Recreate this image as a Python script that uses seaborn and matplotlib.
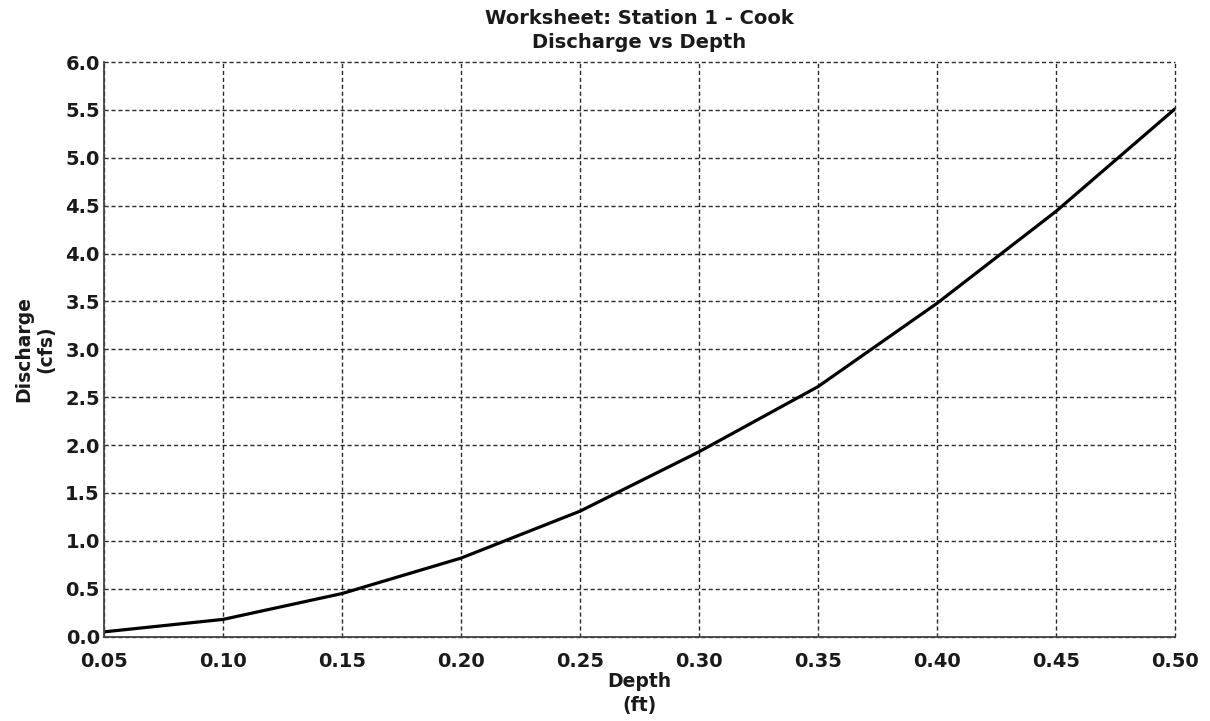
import matplotlib
matplotlib.use("Agg")
import matplotlib.pyplot as plt
import seaborn as sns
import pandas as pd

depth = [0.05, 0.10, 0.15, 0.20, 0.25, 0.30, 0.35, 0.40, 0.45, 0.50]
discharge = [0.05, 0.18, 0.45, 0.82, 1.31, 1.93, 2.61, 3.48, 4.44, 5.51]
x_ticks = [0.05, 0.10, 0.15, 0.20, 0.25, 0.30, 0.35, 0.40, 0.45, 0.50]
y_ticks = [0.0, 0.5, 1.0, 1.5, 2.0, 2.5, 3.0, 3.5, 4.0, 4.5, 5.0, 5.5, 6.0]

sns.set_theme(style="white")
plt.rcParams['font.family'] = ['DejaVu Sans']

df = pd.DataFrame({"Depth": depth, "Discharge": discharge})

fig = plt.figure(figsize=(12.1, 7.21), dpi=100)
ax = fig.add_axes([0.086, 0.117, 0.885, 0.797])

sns.lineplot(data=df, x="Depth", y="Discharge", ax=ax, color="black", linewidth=2.3)

ax.set_xlim(0.05, 0.50)
ax.set_ylim(0.0, 6.0)
ax.set_xticks(x_ticks)
ax.set_xticklabels([f"{v:.2f}" for v in x_ticks])
ax.set_yticks(y_ticks)
ax.set_yticklabels([f"{v:.1f}" for v in y_ticks])
ax.tick_params(axis='both', length=0, labelsize=14, colors='#1a1a1a')
ax.tick_params(axis='x', pad=11)
ax.tick_params(axis='y', pad=3)
for lab in ax.get_xticklabels() + ax.get_yticklabels():
    lab.set_fontweight('bold')

ax.grid(True, color='#2a2a2a', linestyle=(0, (3, 2)), linewidth=1.0)
ax.set_axisbelow(True)
for gl in ax.get_xgridlines() + ax.get_ygridlines():
    gl.set_clip_on(False)
for s in ['top', 'right']:
    ax.spines[s].set_visible(False)
for s in ['left', 'bottom']:
    ax.spines[s].set_color('#444444')
    ax.spines[s].set_linewidth(1.3)

ax.set_xlabel("Depth\n(ft)", fontsize=13.5, fontweight='bold', linespacing=1.3,
              labelpad=1, color='#1a1a1a')
ax.set_ylabel("Discharge\n(cfs)", fontsize=13.5, fontweight='bold', linespacing=1.25,
              labelpad=7, color='#1a1a1a')
ax.set_title("Worksheet: Station 1 - Cook\nDischarge vs Depth", fontsize=14,
             fontweight='bold', linespacing=1.35, pad=10, color='#1a1a1a')

fig.savefig("out.png", dpi=100)
